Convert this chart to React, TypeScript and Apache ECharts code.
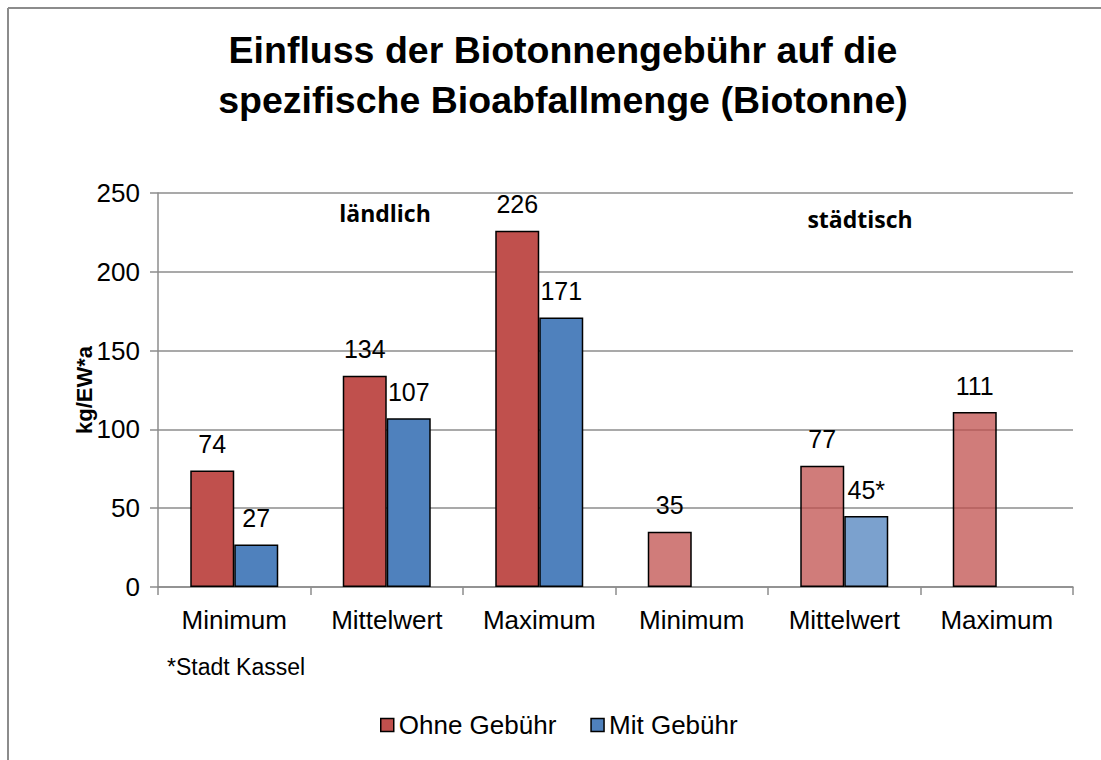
import React, { useEffect, useRef } from "react";
import * as echarts from "echarts";

const categories = ["Minimum", "Mittelwert", "Maximum", "Minimum", "Mittelwert", "Maximum"];
const ohneValues = [74, 134, 226, 35, 77, 111];
const mitValues: (number | null)[] = [27, 107, 171, null, 45, null];
const mitLabels = ["27", "107", "171", "", "45*", ""];
const yTicks = [0, 50, 100, 150, 200, 250];
// index from which bars are drawn in the lighter (städtisch) style
const lightFrom = 3;

const RED = "#C0504D";
const BLUE = "#4F81BD";
const RED_L = "rgba(192,80,77,0.75)";
const BLUE_L = "rgba(79,129,189,0.75)";
const FONT = "'Liberation Sans', Arial, sans-serif";
const GRAY = "#8c8c8c";

export default function App() {
  const ref = useRef<HTMLDivElement>(null);
  useEffect(() => {
    if (!ref.current) return;
    const chart = echarts.init(ref.current, null, { renderer: "svg" });
    const itemBorder = { borderColor: "#000", borderWidth: 1.5 };
    const labelStyle = { show: true, position: "top", distance: 14, fontFamily: FONT, fontSize: 25, color: "#000" };
    chart.setOption({
      animation: false,
      textStyle: { fontFamily: FONT },
      title: {
        text: "Einfluss der Biotonnengebühr auf die\nspezifische Bioabfallmenge (Biotonne)",
        left: 558,
        top: 20,
        textAlign: "center",
        textStyle: { fontFamily: FONT, fontSize: 37.5, fontWeight: "bold", color: "#000", lineHeight: 50 },
      },
      legend: {
        left: 380,
        top: 712,
        padding: 0,
        itemWidth: 13,
        itemHeight: 13,
        itemGap: 34,
        icon: "rect",
        textStyle: { fontFamily: FONT, fontSize: 26, color: "#000" },
        data: [
          { name: "Ohne Gebühr", itemStyle: { color: RED, borderColor: "#000", borderWidth: 1.5 } },
          { name: "Mit Gebühr", itemStyle: { color: BLUE, borderColor: "#000", borderWidth: 1.5 } },
        ],
      },
      grid: { left: 158, top: 193, width: 915, height: 394 },
      xAxis: {
        type: "category",
        data: categories,
        axisLine: { lineStyle: { color: GRAY, width: 1.5 } },
        axisTick: { show: true, length: 8, inside: false, lineStyle: { color: GRAY, width: 1.5 } },
        axisLabel: { fontFamily: FONT, fontSize: 26, color: "#000", margin: 20, interval: 0 },
      },
      yAxis: {
        type: "value",
        min: yTicks[0],
        max: yTicks[yTicks.length - 1],
        interval: 50,
        name: "kg/EW*a",
        nameLocation: "middle",
        nameGap: 63,
        nameMoveOverlap: false,
        nameTextStyle: { fontFamily: FONT, fontSize: 22, fontWeight: "bold", color: "#000" },
        axisLine: { show: true, lineStyle: { color: GRAY, width: 1.5 } },
        axisTick: { show: true, length: 8, lineStyle: { color: GRAY, width: 1.5 } },
        axisLabel: { fontFamily: FONT, fontSize: 26, color: "#000", margin: 18 },
        splitLine: { lineStyle: { color: GRAY, width: 1.5 } },
      },
      series: [
        {
          name: "Ohne Gebühr",
          type: "bar",
          barWidth: 44,
          barGap: "0%",
          data: ohneValues.map((v, i) => ({
            value: v,
            itemStyle: { color: i >= lightFrom ? RED_L : RED, ...itemBorder },
          })),
          itemStyle: { color: RED, ...itemBorder },
          label: labelStyle,
        },
        {
          name: "Mit Gebühr",
          type: "bar",
          barWidth: 44,
          barGap: "0%",
          data: mitValues.map((v, i) => ({
            value: v,
            itemStyle: { color: i >= lightFrom ? BLUE_L : BLUE, ...itemBorder },
            label: { formatter: mitLabels[i] },
          })),
          itemStyle: { color: BLUE, ...itemBorder },
          label: labelStyle,
        },
      ],
      graphic: [
        { type: "line", shape: { x1: 8, y1: 8, x2: 1101, y2: 8 }, style: { stroke: GRAY, lineWidth: 2 } },
        { type: "line", shape: { x1: 8, y1: 8, x2: 8, y2: 760 }, style: { stroke: GRAY, lineWidth: 2 } },
        {
          type: "text",
          x: 385,
          y: 213,
          style: {
            text: "ländlich",
            font: "bold 23px 'Open Sans', sans-serif",
            fill: "#000",
            textAlign: "center",
            textVerticalAlign: "middle",
          },
        },
        {
          type: "text",
          x: 860,
          y: 219,
          style: {
            text: "städtisch",
            font: "bold 23px 'Open Sans', sans-serif",
            fill: "#000",
            textAlign: "center",
            textVerticalAlign: "middle",
          },
        },
        {
          type: "text",
          x: 167,
          y: 667,
          style: {
            text: "*Stadt Kassel",
            font: "23px 'Liberation Sans', Arial, sans-serif",
            fill: "#000",
            textVerticalAlign: "middle",
          },
        },
      ],
    });
    return () => chart.dispose();
  }, []);
  return (
    <div style={{ position: "fixed", left: 0, top: 0, width: 1101, height: 760, overflow: "hidden", background: "#fff" }}>
      <div ref={ref} style={{ position: "absolute", left: 0, top: 0, width: 1101, height: 760 }} />
    </div>
  );
}
